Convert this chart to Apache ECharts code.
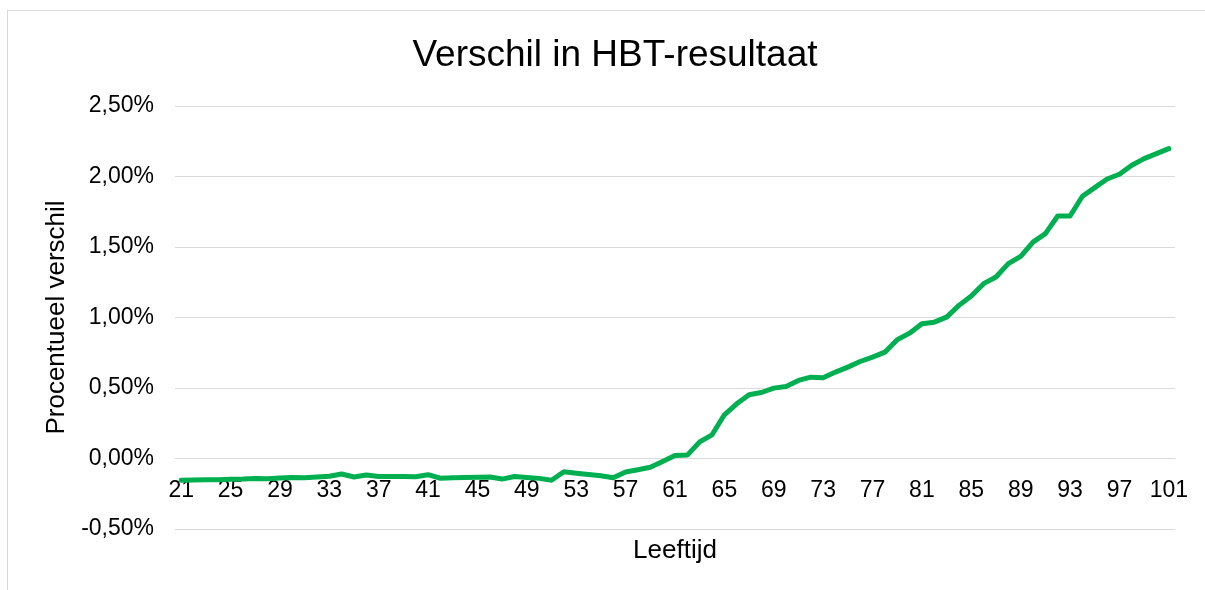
<!DOCTYPE html>
<html>
<head>
<meta charset="utf-8">
<title>Verschil in HBT-resultaat</title>
<script src="https://cdn.jsdelivr.net/npm/echarts@6/dist/echarts.min.js"></script>
<style>
  html, body { margin: 0; padding: 0; background: #fff; overflow: hidden; }
  #frame {
    position: absolute; left: 7px; top: 10px;
    width: 1300px; height: 700px;
    border: 1px solid #d9d9d9;
  }
  #main { position: absolute; left: 0; top: 0; width: 1205px; height: 590px; }
</style>
</head>
<body>
<div id="frame"></div>
<div id="main"></div>
<script>
  // leeftijden (x-as)
  var leeftijd = [
    21, 22, 23, 24, 25, 26, 27, 28, 29, 30,
    31, 32, 33, 34, 35, 36, 37, 38, 39, 40,
    41, 42, 43, 44, 45, 46, 47, 48, 49, 50,
    51, 52, 53, 54, 55, 56, 57, 58, 59, 60,
    61, 62, 63, 64, 65, 66, 67, 68, 69, 70,
    71, 72, 73, 74, 75, 76, 77, 78, 79, 80,
    81, 82, 83, 84, 85, 86, 87, 88, 89, 90,
    91, 92, 93, 94, 95, 96, 97, 98, 99, 100,
    101
  ];

  // procentueel verschil in %
  var verschil = [
    -0.155, -0.153, -0.150, -0.150, -0.148, -0.146, -0.142, -0.143, -0.138, -0.134,
    -0.136, -0.131, -0.126, -0.110, -0.131, -0.117, -0.127, -0.128, -0.127, -0.130,
    -0.115, -0.140, -0.137, -0.135, -0.133, -0.131, -0.146, -0.128, -0.134, -0.141,
    -0.154, -0.094, -0.104, -0.113, -0.122, -0.137, -0.096, -0.080, -0.062, -0.021,
    0.022, 0.024, 0.118, 0.168, 0.310, 0.388, 0.452, 0.468, 0.499, 0.511,
    0.554, 0.577, 0.573, 0.613, 0.648, 0.688, 0.719, 0.754, 0.842, 0.889,
    0.956, 0.967, 1.003, 1.086, 1.152, 1.240, 1.287, 1.382, 1.434, 1.535,
    1.595, 1.720, 1.720, 1.860, 1.921, 1.982, 2.016, 2.080, 2.127, 2.162,
    2.198
  ];

  // y-as ticks
  var yMin = -0.5;
  var yMax = 2.5;
  var yStap = 0.5;

  var font = 'Liberation Sans, Arial, sans-serif';

  var myChart = echarts.init(document.getElementById('main'));

  var option = {
    animation: false,
    title: {
      text: 'Verschil in HBT-resultaat',
      left: 610,
      textAlign: 'center',
      top: 32,
      textStyle: { fontFamily: font, fontSize: 37, fontWeight: 'normal', color: '#000' }
    },
    grid: { left: 175, right: 30, top: 106, bottom: 61, outerBoundsMode: 'none' },
    xAxis: {
      type: 'category',
      data: leeftijd,
      boundaryGap: true,
      // de as ligt op 0,00% (0,5% = 1/6 van de hoogte boven de onderkant)
      offset: -71,
      name: 'Leeftijd',
      nameLocation: 'middle',
      nameGap: 80,
      nameTextStyle: { fontFamily: font, fontSize: 26, color: '#000' },
      axisLine: { onZero: false, lineStyle: { color: '#d9d9d9', width: 1 } },
      axisTick: { show: false },
      axisLabel: {
        interval: 3,
        margin: 21,
        fontFamily: font,
        fontSize: 23,
        color: '#000'
      },
      splitLine: { show: false }
    },
    yAxis: {
      type: 'value',
      min: yMin,
      max: yMax,
      interval: yStap,
      name: 'Procentueel verschil',
      nameLocation: 'middle',
      nameGap: 101,
      nameTextStyle: { fontFamily: font, fontSize: 26, color: '#000' },
      axisLine: { show: false },
      axisTick: { show: false },
      axisLabel: {
        margin: 21,
        fontFamily: font,
        fontSize: 23,
        color: '#000',
        formatter: function (v) {
          return v.toFixed(2).replace('.', ',') + '%';
        }
      },
      splitLine: { lineStyle: { color: '#d9d9d9', width: 1 } }
    },
    series: [
      {
        name: 'Verschil',
        type: 'line',
        data: verschil,
        showSymbol: false,
        smooth: false,
        lineStyle: { color: '#00b050', width: 5, cap: 'round', join: 'round' },
        itemStyle: { color: '#00b050' }
      }
    ]
  };

  myChart.setOption(option);
</script>
</body>
</html>
